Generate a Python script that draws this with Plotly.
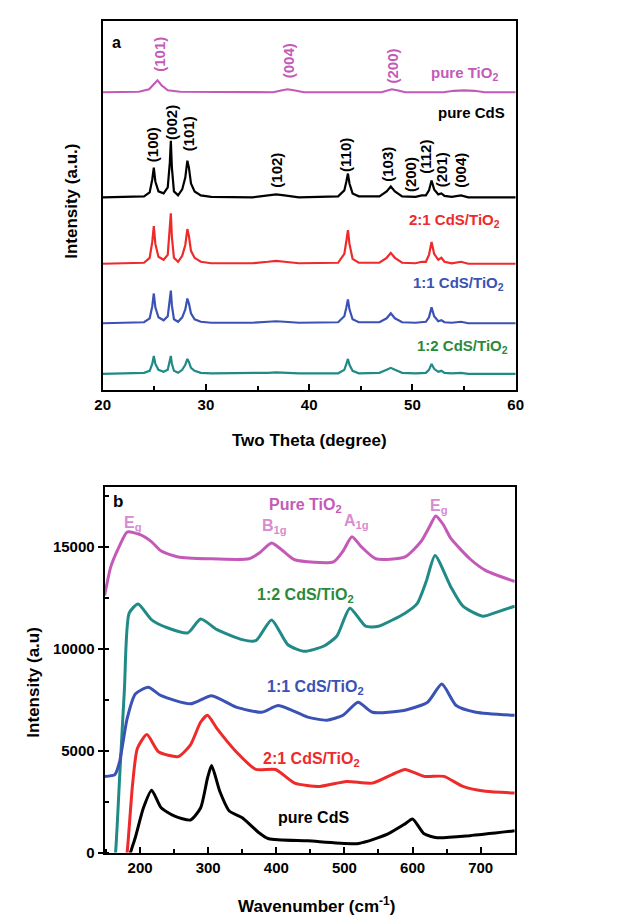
import plotly.graph_objects as go

W, H = 618, 922

# ---------------- XRD data (panel a) ----------------
xrd_theta_tio2 = [20, 23.5, 24.5, 25.0, 25.3, 25.7, 26.3, 27.5, 36.5, 37.4, 37.9, 38.5, 39.5,
                  47.0, 47.6, 48.0, 48.5, 49.3, 53.0, 54.0, 55.0, 56.0, 57.0, 60]
xrd_int_tio2 = [0, 0.5, 3, 9, 12, 7, 2, 0.5, 0, 2, 3, 2, 0,
                0, 2, 3, 2, 0, 0, 1.5, 2, 1.5, 0, 0]

xrd_theta = [20, 24.0, 24.55, 24.8, 24.95, 25.1, 25.4, 25.9, 26.3, 26.5,
             26.6, 26.7, 26.9, 27.3, 27.7, 28.0, 28.2, 28.35, 28.55, 28.9,
             29.5, 30.5, 34.5, 36.0, 36.8, 37.6, 39.0, 42.8, 43.4, 43.6,
             43.75, 43.9, 44.2, 44.8, 46.8, 47.5, 47.9, 48.3, 49.0, 50.3,
             50.9, 51.3, 51.6, 51.85, 52.1, 52.5, 52.8, 53.1, 53.8, 54.7,
             55.4, 60]
xrd_int_cds = [0, 1, 5, 18, 30, 16, 6, 4, 10, 35,
               57, 30, 6, 2, 8, 20, 37, 30, 14, 6,
               2, 0.5, 0, 2, 3, 2, 0, 1, 7, 16,
               24, 14, 4, 1, 1, 6, 11, 6, 1, 0.5,
               2, 2, 7, 17, 8, 3, 4, 1.5, 0.5, 2,
               0, 0]
xrd_int_21 = [0, 1, 6, 22, 38, 20, 7, 4, 9, 32,
              51, 27, 6, 2, 8, 19, 35, 28, 13, 6,
              2, 0.5, 0.5, 2, 3, 2, 0.5, 1, 10, 23,
              34, 20, 5, 1, 1, 6, 11, 6, 1, 0.5,
              2, 2, 9, 22, 10, 4, 6, 2, 0.5, 2,
              0, 0]
xrd_int_11 = [0, 1, 5, 17, 30, 16, 6, 3, 7, 21,
              33, 18, 4, 1.5, 6, 14, 25, 20, 10, 4,
              1.5, 0.5, 0.5, 1.5, 2, 1.5, 0.5, 1, 7, 16,
              24, 14, 4, 1, 1, 5, 10, 5, 1, 0.5,
              1.5, 1.5, 6, 16, 7, 2, 3, 1, 0.5, 1.5,
              0, 0]
xrd_int_12 = [0, 1, 3, 10, 18, 10, 4, 2, 4, 12,
              18, 10, 3, 1, 4, 9, 15, 12, 6, 3,
              1, 0.5, 0.5, 1, 1.5, 1, 0.5, 0.5, 4, 10,
              15, 9, 3, 0.5, 1, 4, 6, 4, 1, 0.5,
              1, 1, 4, 10, 5, 2, 3, 1, 0.5, 1,
              0, 0]
xrd_offsets = {"tio2": 300, "cds": 194, "r21": 127, "r11": 67, "r12": 16}

# ---------------- Raman data (panel b) ----------------
ram_wn_tio2 = [148, 157, 170, 181, 200, 217, 231, 256, 300, 360,
               375, 393, 410, 427, 484, 498, 511, 525, 546, 589,
               613, 625, 634, 645, 656, 684, 707, 750]
ram_tio2 = [12620, 14020, 15060, 15730, 15600, 15250, 14800, 14510, 14420, 14420,
            14700, 15190, 14800, 14370, 14270, 14800, 15500, 15000, 14420, 14510,
            15290, 16000, 16520, 16100, 15430, 14420, 13850, 13300]

ram_wn_12 = [160, 164, 170, 177, 184, 197, 217, 241, 270, 289,
             313, 350, 370, 393, 417, 441, 470, 489, 508, 531,
             550, 589, 607, 620, 633, 656, 674, 703, 727, 750]
ram_12 = [-1000, 0, 3700, 8000, 11750, 12200, 11420, 11020, 10780, 11460,
          10940, 10450, 10400, 11420, 10200, 9880, 10140, 10630, 11990, 11110,
          11110, 11750, 12230, 13300, 14580, 13050, 12090, 11600, 11840, 12090]

ram_wn_11 = [148, 163, 170, 181, 193, 212, 231, 274, 305, 341,
             379, 403, 446, 474, 498, 520, 541, 589, 622, 643,
             664, 693, 750]
ram_11 = [3740, 3830, 4470, 6570, 7780, 8110, 7700, 7300, 7700, 7140,
          6890, 7220, 6650, 6500, 6740, 7380, 6890, 6990, 7380, 8270,
          7220, 6890, 6740]

ram_wn_21 = [178, 181, 189, 196, 210, 227, 256, 274, 289, 299, 313,
             341, 370, 399, 427, 464, 503, 541, 570, 589, 617,
             646, 674, 707, 750]
ram_21 = [-600, 0, 3350, 5110, 5790, 4950, 4710, 5290, 6410, 6740, 6080,
          4950, 4080, 4080, 3410, 3250, 3490, 3410, 3830, 4080, 3740,
          3740, 3250, 3010, 2930]

ram_wn_cds = [183, 186, 193, 205, 217, 231, 250, 274, 289, 299, 305,
              317, 331, 350, 374, 389, 446, 521, 564, 589, 600,
              617, 636, 684, 750]
ram_cds = [-500, 0, 740, 2200, 3060, 2200, 1800, 1600, 2200, 3660, 4270,
           3010, 2040, 1710, 990, 680, 580, 450, 920, 1410, 1650,
           920, 730, 830, 1070]

# ---------------- colours ----------------
C_MAG = "#c45ab8"
C_MAG_LIGHT = "#d88ccf"
C_RED = "#ee2a2a"
C_BLUE = "#3a52b4"
C_TEAL = "#1f8a86"
C_GREEN = "#2a8a3a"
FONT = "Liberation Sans"

fig = go.Figure()

def add_xrd(x, y, off, color):
    fig.add_trace(go.Scatter(x=x, y=[v + off for v in y], mode="lines",
                             line=dict(color=color, width=2.2),
                             xaxis="x", yaxis="y", showlegend=False, hoverinfo="skip"))

add_xrd(xrd_theta_tio2, xrd_int_tio2, xrd_offsets["tio2"], C_MAG)
add_xrd(xrd_theta, xrd_int_cds, xrd_offsets["cds"], "black")
add_xrd(xrd_theta, xrd_int_21, xrd_offsets["r21"], C_RED)
add_xrd(xrd_theta, xrd_int_11, xrd_offsets["r11"], C_BLUE)
add_xrd(xrd_theta, xrd_int_12, xrd_offsets["r12"], C_TEAL)

def add_ram(x, y, color):
    fig.add_trace(go.Scatter(x=x, y=y, mode="lines",
                             line=dict(color=color, width=3, shape="spline", smoothing=0.6),
                             xaxis="x2", yaxis="y2", showlegend=False, hoverinfo="skip"))

add_ram(ram_wn_tio2, ram_tio2, C_MAG)
add_ram(ram_wn_12, ram_12, C_TEAL)
add_ram(ram_wn_11, ram_11, C_BLUE)
add_ram(ram_wn_21, ram_21, C_RED)
add_ram(ram_wn_cds, ram_cds, "black")

def px(x, y):
    return x / W, 1 - y / H

annotations = []

def ann(text, x, y, color="black", size=15, angle=0, xanchor="center", yanchor="middle"):
    ax, ay = px(x, y)
    annotations.append(dict(text=text, x=ax, y=ay, xref="paper", yref="paper",
                            showarrow=False, textangle=angle, xanchor=xanchor, yanchor=yanchor,
                            font=dict(family=FONT, size=size, color=color, weight="bold")))

# panel a labels
ann("a", 103, 35, size=16)
ann("pure TiO<sub>2</sub>", 460, 66, C_MAG, 15)
ann("pure CdS", 468, 105, "black", 15)
ann("2:1 CdS/TiO<sub>2</sub>", 450, 214, C_RED, 15)
ann("1:1 CdS/TiO<sub>2</sub>", 454, 278, C_BLUE, 15)
ann("1:2 CdS/TiO<sub>2</sub>", 458, 341, C_GREEN, 15)
for t, x, y in [("(101)", 147, 47), ("(004)", 280, 53), ("(200)", 387, 58)]:
    ann(t, x, y, C_MAG, 15, -90)
for t, x, y in [("(100)", 140, 138), ("(002)", 159, 115), ("(101)", 177, 127), ("(102)", 267, 164),
                ("(110)", 338, 148), ("(103)", 381, 158), ("(200)", 405, 168), ("(112)", 421, 150),
                ("(201)", 437, 163), ("(004)", 456, 164)]:
    ann(t, x, y, "black", 15, -90)
ann("Intensity (a.u.)", 57, 195, "black", 17, -90)
ann("Two Theta (degree)", 301, 436, "black", 17)

# panel b labels
ann("b", 105, 498, size=17)
ann("Pure TiO<sub>2</sub>", 297, 502, C_MAG, 16)
ann("E<sub>g</sub>", 120, 520, C_MAG_LIGHT, 16)
ann("B<sub>1g</sub>", 265, 523, C_MAG_LIGHT, 16)
ann("A<sub>1g</sub>", 350, 518, C_MAG_LIGHT, 16)
ann("E<sub>g</sub>", 434, 503, C_MAG_LIGHT, 16)
ann("1:2 CdS/TiO<sub>2</sub>", 297, 593, C_GREEN, 16)
ann("1:1 CdS/TiO<sub>2</sub>", 307, 685, C_BLUE, 16)
ann("2:1 CdS/TiO<sub>2</sub>", 303, 758, C_RED, 16)
ann("pure CdS", 305, 817, "black", 16)
ann("Intensity (a.u)", 18, 680, "black", 17, -90)
ann("Wavenumber (cm<sup>-1</sup>)", 308, 905, "black", 17)

axis_common = dict(showgrid=False, zeroline=False, showline=True, linecolor="black",
                   linewidth=2, mirror=True)
tickfont = dict(family=FONT, size=15, color="black", weight="bold")

xa1 = px(89, 0)[0], px(513, 0)[0]
ya1 = px(0, 385)[1], px(0, 13)[1]
xa2 = px(91, 0)[0], px(512, 0)[0]
ya2 = px(0, 852)[1], px(0, 483)[1]

fig.update_layout(
    width=W, height=H, margin=dict(l=0, r=0, t=0, b=0),
    paper_bgcolor="white", plot_bgcolor="white",
    xaxis=dict(domain=list(xa1), anchor="y", range=[20, 60], tick0=20, dtick=10,
               ticks="inside", ticklen=6, tickwidth=1.5, tickcolor="black",
               minor=dict(dtick=5, ticks="inside", ticklen=4, tickwidth=1.5, tickcolor="black"),
               tickfont=tickfont, **axis_common),
    yaxis=dict(domain=list(ya1), anchor="x", range=[0, 372], showticklabels=False,
               ticks="", **axis_common),
    xaxis2=dict(domain=list(xa2), anchor="y2", range=[148, 750], tick0=200, dtick=100,
                ticks="inside", ticklen=6, tickwidth=1.5, tickcolor="black",
                minor=dict(dtick=50, ticks="inside", ticklen=4, tickwidth=1.5, tickcolor="black"),
                tickfont=tickfont, **axis_common),
    yaxis2=dict(domain=list(ya2), anchor="x2", range=[0, 17950], tick0=0, dtick=5000,
                tickformat="d",
                ticks="outside", ticklen=5, tickwidth=1.5, tickcolor="black",
                minor=dict(dtick=2500, ticks="inside", ticklen=4, tickwidth=1.5, tickcolor="black"),
                tickfont=tickfont, **axis_common),
    annotations=annotations,
)

fig.write_html("out.html")
